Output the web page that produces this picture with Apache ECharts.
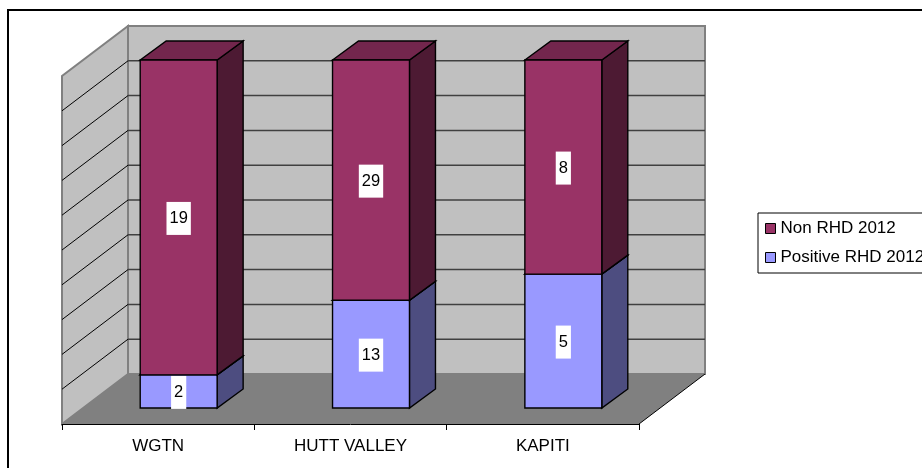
<!DOCTYPE html>
<html><head><meta charset="utf-8">
<style>html,body{margin:0;padding:0;background:#fff}#c{width:922px;height:468px}</style>
<script src="https://cdn.jsdelivr.net/npm/echarts@6/dist/echarts.min.js"></script>
</head><body><div id="c"></div>
<script>
var categories = ['WGTN', 'HUTT VALLEY', 'KAPITI'];
var nonRHD = [19, 29, 8];
var positiveRHD = [2, 13, 5];
var percentTicks = [0, 10, 20, 30, 40, 50, 60, 70, 80, 90, 100];

// oblique projection offsets
var WALL = [66, -50], BAR_FRONT = [20.5, -16], BAR_BACK = [46.5, -35];
var FONT = '"Liberation Sans", Arial, sans-serif';
var chart = echarts.init(document.getElementById('c'));

function poly(points, fill, stroke, lw) {
  return {type: 'polygon', shape: {points: points}, style: {fill: fill, stroke: stroke || 'none', lineWidth: lw || 0, lineJoin: 'miter'}};
}
function line(a, b, stroke, lw) {
  return {type: 'line', shape: {x1: a[0], y1: a[1], x2: b[0], y2: b[1]}, style: {stroke: stroke, lineWidth: lw}};
}
function add(p, o) { return [p[0] + o[0], p[1] + o[1]]; }

function renderWalls(params, api) {
  var band = api.size([1, 0])[0];
  var left = api.coord([0, 0])[0] - band / 2, right = left + band * categories.length;
  var yAt = function (v) { return api.coord([0, v])[1]; };
  var b0 = [left, yAt(0)], b1 = [right, yAt(0)], t0 = [left, yAt(100)], t1 = [right, yAt(100)];
  var c = [];
  c.push(poly([b0, t0, add(t0, WALL), add(b0, WALL)], '#C0C0C0', '#808080', 2));
  c.push(poly([add(t0, WALL), add(t1, WALL), add(b1, WALL), add(b0, WALL)], '#C0C0C0', '#808080', 2));
  percentTicks.forEach(function (t) {
    if (t === 0 || t === 100) return;
    var l = [left, yAt(t)], r = [right, yAt(t)];
    c.push(line(l, add(l, WALL), '#000', 1));
    c.push(line(add(l, WALL), add(r, WALL), '#404040', 1.5));
  });
  c.push(poly([b0, add(b0, WALL), add(b1, WALL), b1], '#808080', 'none', 0));
  c.push(line(b1, add(b1, WALL), '#000', 1));
  return {type: 'group', children: c};
}

function barRenderer(front, side, top) {
  return function (params, api) {
    var i = api.value(0), y0 = api.value(1), y1 = api.value(2), n = api.value(3);
    var w = api.size([1, 0])[0] * 0.4;
    var cb = api.coord([i, y0]), ct = api.coord([i, y1]);
    var f = BAR_FRONT, k = BAR_BACK;
    var x0 = cb[0] - w / 2, x1 = cb[0] + w / 2;
    var fbl = add([x0, cb[1]], f), fbr = add([x1, cb[1]], f), ftl = add([x0, ct[1]], f), ftr = add([x1, ct[1]], f);
    var bbr = add([x1, cb[1]], k), btr = add([x1, ct[1]], k), btl = add([x0, ct[1]], k);
    var c = [
      poly([fbr, ftr, btr, bbr], side, '#000', 1.4),
      poly([ftl, btl, btr, ftr], top, '#000', 1.4),
      poly([fbl, ftl, ftr, fbr], front, '#000', 1.4),
      {type: 'text', z2: 10, style: {
        text: String(n), x: (fbl[0] + fbr[0]) / 2, y: (fbl[1] + ftl[1]) / 2 + 1,
        align: 'center', verticalAlign: 'middle', fill: '#000',
        font: '16.5px ' + FONT,
        backgroundColor: '#fff', padding: [8, 3, 8, 3]
      }}
    ];
    return {type: 'group', children: c};
  };
}

var lower = [], upper = [];
categories.forEach(function (c, i) {
  var total = nonRHD[i] + positiveRHD[i], p = positiveRHD[i] / total * 100;
  lower.push([i, 0, p, positiveRHD[i]]);
  upper.push([i, p, 100, nonRHD[i]]);
});

chart.setOption({
  animation: false,
  backgroundColor: '#fff',
  graphic: [{type: 'rect', silent: true, z: -10, shape: {x: 8, y: 10, width: 1000, height: 1000}, style: {fill: '#fff', stroke: '#000', lineWidth: 2}}],
  grid: {left: 62, right: 283, top: 76, bottom: 44, containLabel: false},
  legend: {
    orient: 'vertical', left: 758, top: 213, padding: [7, 8, 7, 7], itemGap: 12,
    borderColor: '#000', borderWidth: 1, backgroundColor: '#fff',
    itemWidth: 10, itemHeight: 10, icon: 'rect',
    textStyle: {fontFamily: FONT, fontSize: 17, color: '#000', padding: [0, 0, 0, 0]},
    data: [
      {name: 'Non RHD 2012', itemStyle: {color: '#993366', borderColor: '#000', borderWidth: 1}},
      {name: 'Positive RHD 2012', itemStyle: {color: '#9999FF', borderColor: '#000', borderWidth: 1}}
    ]
  },
  xAxis: {
    type: 'category', data: categories, boundaryGap: true,
    axisLine: {onZero: false, lineStyle: {color: '#000', width: 1}},
    axisTick: {show: true, alignWithLabel: false, length: 6, lineStyle: {color: '#000'}},
    axisLabel: {color: '#000', fontSize: 17, fontFamily: FONT, margin: 14, interval: 0},
    splitLine: {show: false}, z: 5
  },
  yAxis: {type: 'value', min: 0, max: 100, interval: 10, show: false, splitLine: {show: false}},
  series: [
    {type: 'custom', name: '_walls', silent: true, clip: false, z: 1, data: [[0, 0]], renderItem: renderWalls, encode: {x: 0, y: 1}},
    {type: 'custom', name: 'Positive RHD 2012', clip: false, z: 2, data: lower, renderItem: barRenderer('#9999FF', '#4D4D80', '#737399'), encode: {x: 0, y: [1, 2]}, itemStyle: {color: '#9999FF'}},
    {type: 'custom', name: 'Non RHD 2012', clip: false, z: 3, data: upper, renderItem: barRenderer('#993366', '#4D1A33', '#73264D'), encode: {x: 0, y: [1, 2]}, itemStyle: {color: '#993366'}}
  ]
});
</script></body></html>
